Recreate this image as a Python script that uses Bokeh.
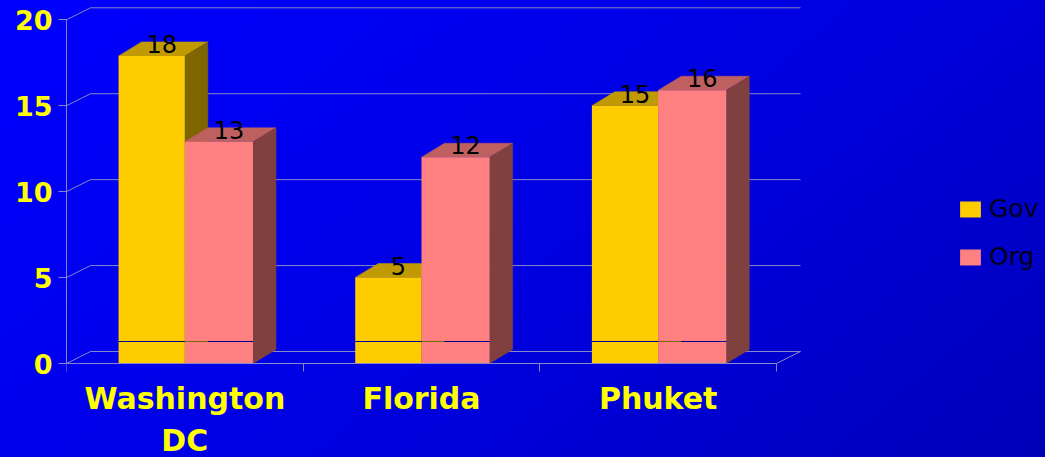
from bokeh.embed import file_html
from bokeh.resources import INLINE
from bokeh.models import (ColumnDataSource, FixedTicker, LinearAxis, Range1d, Legend)
from bokeh.plotting import figure
from bokeh.core.properties import value

categories = ["Washington\nDC", "Florida", "Phuket"]
gov = [17.9, 5, 15]
org = [12.9, 12, 15.9]
gov_labels = ["18", "5", "15"]
org_labels = ["13", "12", "16"]
y_ticks = [0, 5, 10, 15, 20]

W, H = 1045, 457
LEFT, BOTTOM = 66, 94
PX_X = (776 - 66) / 3
PX_Y = (363 - 19.3) / 20
WALL_DX, WALL_DY = 24 / PX_X, 12 / PX_Y
BAR_DX, BAR_DY = 23 / PX_X, 14 / PX_Y
GOV_W, ORG_W = 0.28, 0.288
LINE_Y = 22 / PX_Y

C = dict(gov=("#FFCC00", "#C09A00", "#806600"), org=("#FF8080", "#BF6060", "#804040"))
GRID = "#8888C8"

p = figure(width=W, height=H, output_backend="svg", toolbar_location=None,
           x_range=Range1d(0, (W - LEFT) / PX_X), y_range=Range1d(-BOTTOM / PX_Y, 363 / PX_Y),
           min_border_left=LEFT, min_border_bottom=0, min_border_top=0, min_border_right=0,
           x_axis_location=None, y_axis_location=None,
           background_fill_alpha=0, border_fill_alpha=0, outline_line_color=None,
           styles={"position": "fixed", "left": "0", "top": "0",
                   "background": "linear-gradient(140deg,#0000FF 0%,#0000EA 40%,#0000D0 75%,#0000B8 100%)"})
p.grid.visible = False

# back wall, floor and depth lines
wx, wy = [], []
for t in y_ticks:
    wx.append([0, WALL_DX, 3 + WALL_DX])
    wy.append([t, t + WALL_DY, t + WALL_DY])
wx.append([3, 3 + WALL_DX]); wy.append([0, WALL_DY])
p.multi_line(wx, wy, line_color=GRID, line_width=1)

# axes
ya = LinearAxis(ticker=FixedTicker(ticks=y_ticks), bounds=(0, 20))
ya.axis_line_color = GRID; ya.major_tick_line_color = GRID
ya.major_tick_out = 8; ya.major_tick_in = 0; ya.minor_tick_line_color = None
ya.major_label_text_color = "#FFFF00"; ya.major_label_text_font = "DejaVu Sans"
ya.major_label_text_font_style = "bold"; ya.major_label_text_font_size = "27px"
ya.major_label_standoff = 6
p.add_layout(ya, "left")

xa = LinearAxis(ticker=FixedTicker(ticks=[i + 0.5 for i in range(3)], minor_ticks=[0, 1, 2, 3]),
                bounds=(0, 3), fixed_location=0)
xa.axis_line_color = GRID; xa.major_tick_line_color = None
xa.minor_tick_line_color = GRID; xa.minor_tick_out = 8; xa.minor_tick_in = 0
xa.major_label_overrides = {i + 0.5: c for i, c in enumerate(categories)}
xa.major_label_text_color = "#FFFF00"; xa.major_label_text_font = "DejaVu Sans"
xa.major_label_text_font_style = "bold"; xa.major_label_text_font_size = "30px"
xa.major_label_standoff = 9
p.add_layout(xa, "below")

def series(vals, labels, left_off, bar_w, name, key):
    front, top, side = C[key]
    lefts = [i + left_off for i in range(3)]
    rights = [l + bar_w for l in lefts]
    tx = [[l, r, r + BAR_DX, l + BAR_DX] for l, r in zip(lefts, rights)]
    ty = [[v, v, v + BAR_DY, v + BAR_DY] for v in vals]
    p.patches(tx, ty, fill_color=top, line_color=top, line_width=0.5)
    sx = [[r, r + BAR_DX, r + BAR_DX, r] for r in rights]
    sy = [[0, BAR_DY, v + BAR_DY, v] for v in vals]
    p.patches(sx, sy, fill_color=side, line_color=side, line_width=0.5)
    src = ColumnDataSource(dict(x=[l + bar_w / 2 for l in lefts], top=vals, lab=labels))
    p.vbar(x="x", top="top", bottom=0, width=bar_w, source=src, fill_color=front,
           line_color=None, legend_label=name)
    return src

s1 = series(gov, gov_labels, 0.22, GOV_W, "Gov", "gov")
s2 = series(org, org_labels, 0.5, ORG_W, "Org", "org")

# thin line across each pair of bars
p.segment([i + 0.22 for i in range(3)], [LINE_Y] * 3, [i + 0.5 + ORG_W for i in range(3)], [LINE_Y] * 3,
          line_color="#000090", line_width=1)
p.segment([i + 0.5 for i in range(3)], [LINE_Y] * 3, [i + 0.5 + BAR_DX for i in range(3)], [LINE_Y] * 3,
          line_color="#806600", line_width=1)

for s in (s1, s2):
    p.text(x="x", y="top", text="lab", source=s, x_offset=10, y_offset=-12,
           text_align="center", text_baseline="middle", text_color="#000000",
           text_font=value("DejaVu Sans"), text_font_size="24px")

lg = p.legend[0]
lg.location = (891, 186)
lg.background_fill_alpha = 0; lg.border_line_color = None
lg.padding = 0; lg.margin = 0; lg.spacing = 19
lg.glyph_width = 26; lg.glyph_height = 20; lg.label_standoff = 6
lg.label_text_color = "#000018"; lg.label_text_font = "DejaVu Sans"
lg.label_text_font_size = "25px"

open("out.html", "w").write(file_html(p, INLINE))
